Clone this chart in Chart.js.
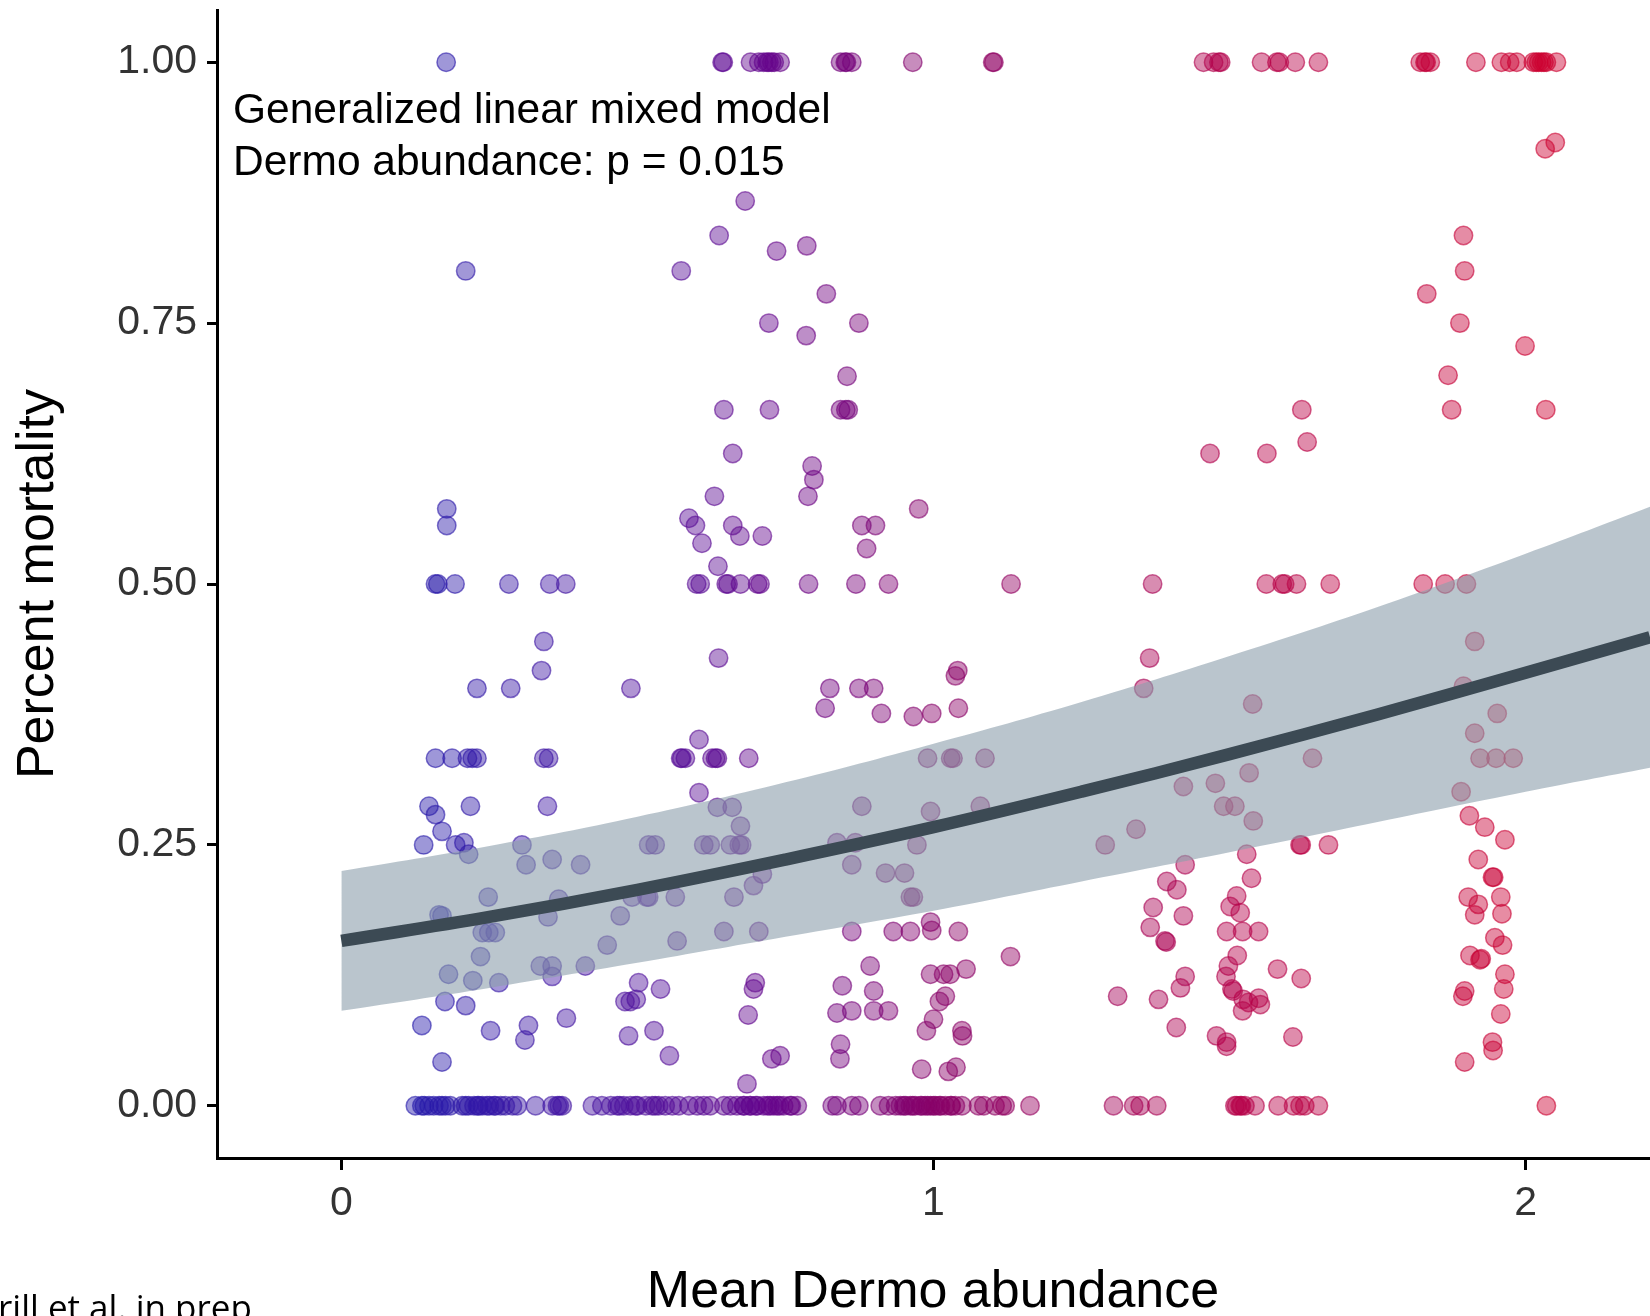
<!DOCTYPE html>
<html>
<head>
<meta charset="utf-8">
<script src="https://cdn.jsdelivr.net/npm/chart.js@4.4.1/dist/chart.umd.min.js"></script>
<style>
  html, body { margin: 0; padding: 0; background: #fff; overflow: hidden; }
  #wrap { position: relative; width: 1650px; height: 1316px; }
  canvas { display: block; }
</style>
</head>
<body>
<div id="wrap"><canvas id="graph1"></canvas></div>
<script>
// axis ticks
const xTicks = [0, 1, 2];
const yTicks = [0, 0.25, 0.5, 0.75, 1];

// fitted GLMM curve and its confidence band
const fitX = [0, 0.25, 0.5, 0.75, 1.0, 1.25, 1.5, 1.75, 2.0, 2.21];
const fitY = [0.158, 0.181, 0.207, 0.236, 0.267, 0.301, 0.337, 0.375, 0.415, 0.449];
const fitUpper = [0.225, 0.249, 0.277, 0.310, 0.347, 0.387, 0.431, 0.478, 0.529, 0.574];
const fitLower = [0.091, 0.113, 0.137, 0.162, 0.187, 0.215, 0.243, 0.272, 0.301, 0.324];

// observations with 0% mortality (x = mean Dermo abundance)
const zeroX = [0.125, 0.136, 0.14, 0.148, 0.156, 0.165, 0.17, 0.176, 0.184, 0.204, 0.21, 0.215, 0.224, 0.23, 0.232,
  0.238, 0.246, 0.25, 0.258, 0.26, 0.269, 0.277, 0.289, 0.297,
  0.328, 0.356, 0.365, 0.368, 0.373,
  0.424, 0.44, 0.455, 0.466, 0.47, 0.477, 0.488, 0.497, 0.50, 0.514, 0.525, 0.53, 0.536, 0.547, 0.559, 0.57,
  0.587, 0.601, 0.612, 0.623,
  0.646, 0.657, 0.668, 0.679, 0.68, 0.69, 0.691, 0.70, 0.702, 0.713, 0.72, 0.724, 0.73, 0.736, 0.74, 0.747, 0.758, 0.76, 0.77,
  0.829, 0.837, 0.862, 0.874,
  0.91, 0.924, 0.936, 0.944, 0.95, 0.953, 0.961, 0.965, 0.969, 0.978, 0.98, 0.986, 0.99, 0.995, 1.0, 1.003, 1.01,
  1.012, 1.02, 1.029, 1.03, 1.037, 1.048,
  1.076, 1.085, 1.104, 1.116, 1.121, 1.163,
  1.304, 1.338, 1.349, 1.377,
  1.509, 1.512, 1.518, 1.52, 1.526, 1.543,
  1.582, 1.608, 1.619, 1.627, 1.65,
  2.035];

// observations with 100% mortality
const oneX = [0.177, 0.643, 0.645, 0.691, 0.705, 0.713, 0.719, 0.722, 0.727, 0.731, 0.741,
  0.843, 0.851, 0.853, 0.862, 0.965, 1.100, 1.102,
  1.456, 1.473, 1.482, 1.485, 1.554, 1.580, 1.584, 1.611, 1.650,
  1.822, 1.830, 1.832, 1.839, 1.916,
  1.959, 1.973, 1.985, 2.013, 2.018, 2.022, 2.027, 2.031, 2.035, 2.052];

// all other observations [mean Dermo abundance, percent mortality]
const midPts = [
  [0.210, 0.800], [0.178, 0.572], [0.178, 0.556],
  [0.159, 0.500], [0.163, 0.500], [0.192, 0.500], [0.283, 0.500], [0.352, 0.500], [0.379, 0.500],
  [0.342, 0.445], [0.338, 0.417], [0.229, 0.400], [0.286, 0.400], [0.489, 0.400],
  [0.159, 0.333], [0.187, 0.333], [0.213, 0.333], [0.221, 0.333], [0.229, 0.333], [0.342, 0.333], [0.350, 0.333],
  [0.148, 0.287], [0.159, 0.279], [0.170, 0.263], [0.193, 0.250], [0.207, 0.252], [0.215, 0.241], [0.139, 0.250],
  [0.218, 0.287], [0.348, 0.287],
  [0.305, 0.250], [0.312, 0.231], [0.356, 0.236], [0.404, 0.231],
  [0.519, 0.250], [0.530, 0.250], [0.612, 0.250],
  [0.248, 0.200], [0.165, 0.183], [0.170, 0.182], [0.367, 0.198], [0.349, 0.181], [0.471, 0.182],
  [0.491, 0.200], [0.516, 0.200], [0.519, 0.200], [0.564, 0.200],
  [0.238, 0.166], [0.249, 0.166], [0.260, 0.166], [0.449, 0.154], [0.567, 0.158],
  [0.235, 0.143], [0.336, 0.134], [0.356, 0.134], [0.356, 0.124], [0.412, 0.134], [0.181, 0.126], [0.222, 0.120],
  [0.266, 0.118], [0.175, 0.100], [0.210, 0.096],
  [0.502, 0.118], [0.539, 0.112], [0.479, 0.100], [0.488, 0.100], [0.498, 0.102],
  [0.136, 0.077], [0.252, 0.072], [0.316, 0.077], [0.310, 0.063], [0.380, 0.084], [0.485, 0.067], [0.528, 0.072],
  [0.554, 0.048], [0.170, 0.042],
  [0.574, 0.800], [0.587, 0.563], [0.598, 0.556], [0.609, 0.539],
  [0.600, 0.500], [0.606, 0.500], [0.650, 0.500], [0.653, 0.500], [0.674, 0.500], [0.703, 0.500], [0.707, 0.500],
  [0.789, 0.500], [0.869, 0.500], [0.924, 0.500], [1.131, 0.500], [1.370, 0.500],
  [0.604, 0.351], [0.604, 0.300],
  [0.573, 0.333], [0.575, 0.333], [0.581, 0.333], [0.626, 0.333], [0.632, 0.333], [0.635, 0.333], [0.688, 0.333],
  [0.635, 0.286], [0.660, 0.286], [0.674, 0.268],
  [0.623, 0.250], [0.657, 0.250], [0.672, 0.250], [0.676, 0.250],
  [0.682, 0.867], [0.638, 0.834], [0.735, 0.819], [0.786, 0.824], [0.819, 0.778], [0.722, 0.750], [0.785, 0.738],
  [0.874, 0.750], [0.854, 0.699],
  [0.646, 0.667], [0.723, 0.667], [0.843, 0.667], [0.852, 0.667], [0.856, 0.667],
  [0.661, 0.625], [0.795, 0.613], [0.798, 0.600], [0.788, 0.584], [0.630, 0.584], [0.975, 0.572],
  [0.661, 0.556], [0.673, 0.546], [0.711, 0.546], [0.636, 0.517], [0.879, 0.556], [0.902, 0.556], [0.887, 0.534],
  [0.637, 0.429], [0.825, 0.400], [0.874, 0.400], [0.899, 0.400], [0.817, 0.381], [0.912, 0.376], [0.966, 0.373],
  [0.997, 0.376], [1.041, 0.417], [1.037, 0.412], [1.042, 0.381],
  [1.365, 0.429], [1.355, 0.400],
  [0.990, 0.333], [1.029, 0.333], [1.033, 0.333], [1.087, 0.333],
  [0.879, 0.287], [0.995, 0.282], [1.079, 0.287],
  [0.837, 0.252], [0.868, 0.252], [0.972, 0.250],
  [0.862, 0.231], [0.919, 0.223], [0.951, 0.223], [0.961, 0.200], [0.966, 0.200],
  [0.711, 0.222], [0.696, 0.211], [0.663, 0.200],
  [0.646, 0.167], [0.705, 0.167], [0.862, 0.167], [0.932, 0.167], [0.961, 0.167], [0.995, 0.176], [0.997, 0.168],
  [1.042, 0.167], [1.130, 0.143],
  [0.893, 0.134], [0.699, 0.118], [0.696, 0.112], [0.846, 0.115], [0.899, 0.110],
  [0.995, 0.126], [1.017, 0.126], [1.028, 0.126], [1.055, 0.131], [1.020, 0.105], [1.010, 0.100],
  [0.687, 0.087], [0.837, 0.089], [0.862, 0.091], [0.899, 0.091], [0.924, 0.091], [1.000, 0.083], [0.988, 0.072],
  [1.048, 0.072], [1.049, 0.067],
  [0.843, 0.059], [0.842, 0.045], [0.727, 0.045], [0.741, 0.048], [0.685, 0.021], [0.980, 0.035], [1.025, 0.033],
  [1.038, 0.037],
  [1.290, 0.250], [1.342, 0.265], [1.425, 0.231], [1.394, 0.215], [1.411, 0.207], [1.371, 0.190], [1.422, 0.182],
  [1.366, 0.171], [1.391, 0.158], [1.393, 0.157], [1.425, 0.124], [1.417, 0.113], [1.311, 0.105], [1.380, 0.102],
  [1.410, 0.075],
  [1.490, 0.287], [1.509, 0.287], [1.540, 0.273], [1.619, 0.250], [1.621, 0.250], [1.667, 0.250],
  [1.529, 0.241], [1.537, 0.218], [1.512, 0.201], [1.501, 0.191], [1.518, 0.185],
  [1.495, 0.167], [1.522, 0.167], [1.549, 0.167], [1.513, 0.144], [1.498, 0.134], [1.494, 0.124],
  [1.504, 0.112], [1.506, 0.110], [1.523, 0.102], [1.532, 0.099], [1.549, 0.103], [1.552, 0.097], [1.522, 0.091],
  [1.581, 0.131], [1.621, 0.122], [1.478, 0.067], [1.495, 0.061], [1.495, 0.057], [1.607, 0.066],
  [1.905, 0.278], [1.931, 0.267], [1.965, 0.255], [1.920, 0.236], [1.944, 0.219], [1.946, 0.219], [1.903, 0.200],
  [1.920, 0.193], [1.914, 0.183], [1.958, 0.200], [1.960, 0.184], [1.948, 0.161], [1.961, 0.154], [1.906, 0.144],
  [1.923, 0.140], [1.925, 0.141], [1.965, 0.126], [1.963, 0.112], [1.897, 0.110], [1.894, 0.105], [1.958, 0.088],
  [1.944, 0.061], [1.945, 0.053], [1.897, 0.042],
  [1.467, 0.625], [1.563, 0.625], [1.631, 0.636],
  [1.562, 0.500], [1.589, 0.500], [1.593, 0.500], [1.613, 0.500], [1.670, 0.500], [1.827, 0.500], [1.864, 0.500],
  [1.900, 0.500],
  [1.914, 0.445], [1.895, 0.402], [1.539, 0.385], [1.952, 0.376], [1.914, 0.357],
  [1.923, 0.333], [1.950, 0.333], [1.979, 0.333], [1.640, 0.333],
  [1.533, 0.319], [1.476, 0.309], [1.422, 0.306], [1.891, 0.301],
  [2.050, 0.923], [2.033, 0.917], [1.895, 0.834], [1.897, 0.800], [1.833, 0.778], [1.889, 0.750], [1.999, 0.728],
  [1.869, 0.700], [1.622, 0.667], [1.875, 0.667], [2.034, 0.667]
];

// colour of a point follows its Dermo abundance (blue -> purple -> red)
const colorStops = [
  [0.12, [35, 25, 170]], [0.45, [75, 20, 160]], [0.72, [100, 5, 140]],
  [1.0, [135, 0, 105]], [1.5, [180, 0, 75]], [2.05, [205, 0, 48]]
];
function colorAt(x, a) {
  let c = colorStops[colorStops.length - 1][1];
  if (x <= colorStops[0][0]) c = colorStops[0][1];
  for (let i = 0; i < colorStops.length - 1; i++) {
    const [x0, c0] = colorStops[i], [x1, c1] = colorStops[i + 1];
    if (x >= x0 && x <= x1) {
      const t = (x - x0) / (x1 - x0);
      c = c0.map((v, k) => Math.round(v + (c1[k] - v) * t));
      break;
    }
  }
  return `rgba(${c[0]},${c[1]},${c[2]},${a})`;
}

const obs = [
  ...zeroX.map(x => ({ x: x, y: 0 })),
  ...oneX.map(x => ({ x: x, y: 1 })),
  ...midPts.map(p => ({ x: p[0], y: p[1] }))
];
const toXY = ys => fitX.map((x, i) => ({ x: x, y: ys[i] }));

const FONT = "'Liberation Sans', Arial, Helvetica, sans-serif";

const textPlugin = {
  id: 'texts',
  afterDraw(chart) {
    const c = chart.ctx;
    c.save();
    c.fillStyle = '#000';
    c.textAlign = 'left';
    c.textBaseline = 'alphabetic';
    c.font = `42.5px ${FONT}`;
    c.fillText('Generalized linear mixed model', 233, 123);
    c.fillText('Dermo abundance: p = 0.015', 233, 175);

    c.font = `52px ${FONT}`;
    c.textAlign = 'center';
    c.fillText('Mean Dermo abundance', 933, 1307);

    c.save();
    c.translate(53, 584);
    c.rotate(-Math.PI / 2);
    c.fillText('Percent mortality', 0, 0);
    c.restore();

    c.textAlign = 'left';
    c.font = `35px 'Open Sans', sans-serif`;
    c.fillText('rill et al. in prep', -2, 1320);
    c.restore();
  }
};

// drop the extra room Chart.js keeps for half of the edge tick labels
const noEdgePad = a => {
  a.paddingTop = 0; a.paddingBottom = 0; a.paddingLeft = 0; a.paddingRight = 0;
};

const ctx1 = document.getElementById('graph1').getContext('2d');
new Chart(ctx1, {
  type: 'scatter',
  data: {
    datasets: [
      {
        type: 'line',
        data: toXY(fitY),
        borderColor: '#3c4a54',
        borderWidth: 12.5,
        pointRadius: 0,
        tension: 0.4,
        fill: false,
        order: 0
      },
      {
        type: 'line',
        data: toXY(fitUpper),
        borderWidth: 0,
        borderColor: 'rgba(0,0,0,0)',
        backgroundColor: 'rgba(140,158,172,0.6)',
        pointRadius: 0,
        tension: 0.4,
        fill: '+1',
        order: 1
      },
      {
        type: 'line',
        data: toXY(fitLower),
        borderWidth: 0,
        borderColor: 'rgba(0,0,0,0)',
        pointRadius: 0,
        tension: 0.4,
        fill: false,
        order: 2
      },
      {
        type: 'scatter',
        data: obs,
        pointRadius: 9.2,
        borderWidth: 1.5,
        backgroundColor: c => colorAt(c.raw ? c.raw.x : 1, 0.45),
        borderColor: c => colorAt(c.raw ? c.raw.x : 1, 0.6),
        order: 3
      }
    ]
  },
  options: {
    responsive: true,
    maintainAspectRatio: false,
    animation: false,
    layout: { autoPadding: false, padding: { top: 10, right: 0, left: 0, bottom: 0 } },
    plugins: { legend: { display: false }, tooltip: { enabled: false } },
    scales: {
      x: {
        type: 'linear',
        min: -0.21,
        max: 2.21,
        afterBuildTicks: a => { a.ticks = xTicks.map(v => ({ value: v })); },
        afterFit: a => { a.height = 158; noEdgePad(a); },
        ticks: { font: { size: 41, family: FONT }, color: '#333', padding: 9, maxRotation: 0 },
        grid: { drawOnChartArea: false, tickLength: 12, lineWidth: 3, color: '#000' },
        border: { display: true, color: '#000', width: 3 }
      },
      y: {
        min: -0.05,
        max: 1.05,
        afterBuildTicks: a => { a.ticks = yTicks.map(v => ({ value: v })); },
        afterFit: a => { a.width = 217; noEdgePad(a); },
        ticks: { font: { size: 41, family: FONT }, color: '#333', padding: 10, callback: v => v.toFixed(2) },
        grid: { drawOnChartArea: false, tickLength: 10, lineWidth: 3, color: '#000' },
        border: { display: true, color: '#000', width: 3 }
      }
    }
  },
  plugins: [textPlugin]
});
</script>
</body>
</html>
